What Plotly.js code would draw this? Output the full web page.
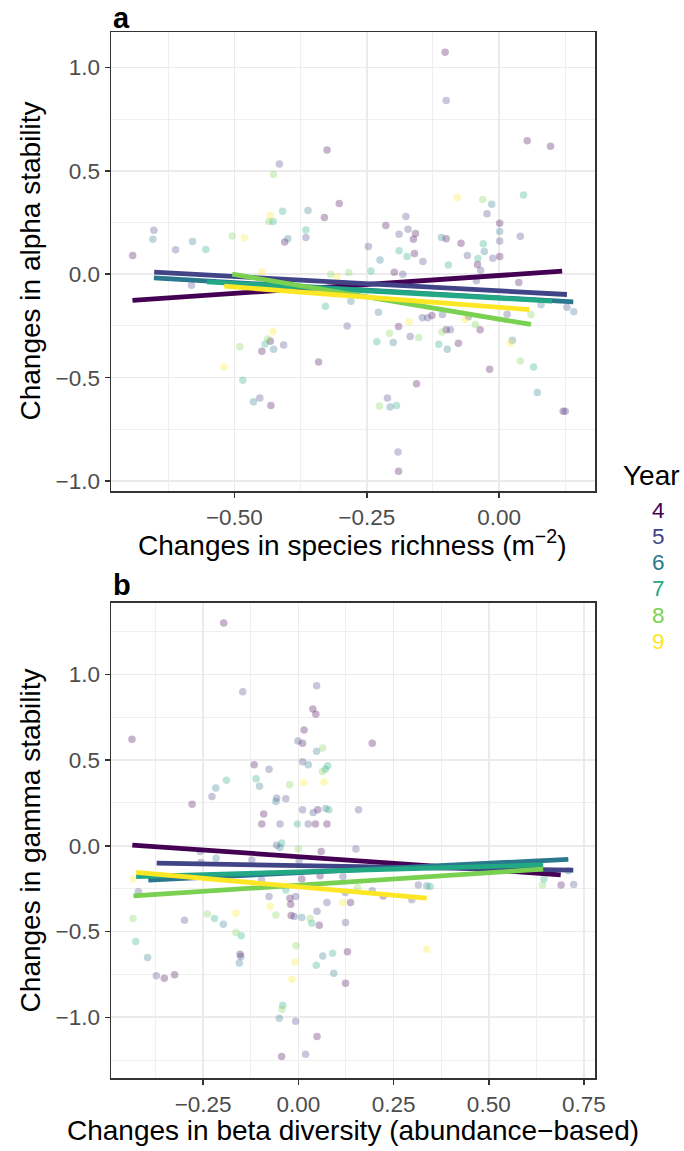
<!DOCTYPE html>
<html>
<head>
<meta charset="utf-8">
<script src="https://cdn.plot.ly/plotly-3.0.1.min.js"></script>
<style>html,body{margin:0;padding:0;background:#fff;}#chart{width:684px;height:1151px;}</style>
</head>
<body>
<div id="chart"></div>
<script>
// ---------- data ----------
const years = [4, 5, 6, 7, 8, 9];
const yearColors = ['#440154', '#414487', '#2A788E', '#22A884', '#7AD151', '#FDE725'];

// Panel a: change in species richness vs change in alpha stability
const aX = [-0.325,-0.415,-0.426,-0.302,-0.409,-0.361,-0.330,-0.432,-0.435,-0.427,-0.652,-0.654,-0.692,-0.611,-0.579,-0.554,-0.504,-0.481,-0.365,-0.365,-0.405,-0.399,-0.102,-0.100,0.053,0.097,-0.079,-0.031,-0.014,0.046,-0.023,-0.176,-0.214,-0.189,-0.172,-0.158,-0.162,-0.247,-0.109,-0.100,-0.072,0.001,0.001,0.001,0.040,-0.030,-0.028,-0.060,-0.040,-0.012,0.001,-0.189,-0.174,-0.160,-0.225,-0.144,-0.096,-0.041,-0.581,-0.448,-0.318,-0.306,-0.284,-0.328,-0.280,-0.287,-0.427,-0.437,-0.432,-0.442,-0.448,-0.426,-0.407,-0.490,-0.341,-0.520,-0.484,-0.464,-0.452,-0.431,-0.242,-0.198,-0.182,0.037,-0.043,-0.035,-0.228,-0.170,-0.190,-0.207,-0.231,-0.200,-0.168,-0.152,-0.145,-0.135,-0.127,-0.108,-0.100,-0.092,-0.114,-0.098,-0.077,-0.107,-0.058,-0.064,-0.045,-0.036,0.015,0.060,0.079,0.128,0.141,0.025,0.021,0.040,0.065,-0.018,-0.156,-0.211,-0.206,-0.194,-0.226,0.072,0.121,0.125,-0.191,-0.190];
const aY = [0.600,0.533,0.482,0.342,0.305,0.308,0.274,0.284,0.255,0.255,0.213,0.169,0.090,0.118,0.158,0.119,0.185,0.176,0.214,0.177,0.156,0.172,1.073,0.840,0.645,0.619,0.371,0.361,0.338,0.383,0.292,0.279,0.235,0.193,0.218,0.197,0.169,0.134,0.177,0.171,0.150,0.247,0.206,0.161,0.184,0.147,0.110,0.090,0.076,0.077,0.086,0.113,0.086,0.100,0.069,0.061,0.044,0.047,-0.053,0.011,0.000,-0.013,0.008,-0.155,-0.131,-0.250,-0.277,-0.313,-0.324,-0.337,-0.372,-0.363,-0.342,-0.351,-0.424,-0.448,-0.513,-0.617,-0.598,-0.635,0.015,0.010,0.000,-0.040,-0.032,0.019,-0.184,-0.230,-0.253,-0.285,-0.327,-0.330,-0.301,-0.306,-0.211,-0.211,-0.200,-0.279,-0.268,-0.268,-0.338,-0.363,-0.334,-0.195,-0.206,-0.219,-0.243,-0.269,-0.193,-0.195,-0.147,-0.160,-0.182,-0.319,-0.332,-0.419,-0.448,-0.459,-0.530,-0.598,-0.642,-0.635,-0.637,-0.572,-0.662,-0.662,-0.859,-0.953];
const aYear = [4,5,8,4,7,6,4,9,8,7,5,6,4,5,6,7,8,9,7,5,4,6,4,5,4,4,9,8,6,7,5,5,4,5,5,4,4,5,6,4,4,4,6,5,5,7,6,5,7,5,4,7,7,4,6,5,7,4,5,9,8,9,8,7,6,5,9,8,4,7,4,6,5,8,4,9,7,6,5,4,7,4,5,4,5,5,6,9,4,8,7,6,5,8,5,5,4,8,4,5,7,6,4,5,5,9,8,4,5,8,6,5,6,6,9,8,7,4,4,5,6,7,8,6,4,5,5,4];

// Panel a fitted lines (start / end of each year's linear fit)
const aFitX0 = [-0.6925, -0.6515, -0.652, -0.552, -0.504, -0.519];
const aFitX1 = [0.119, 0.128, 0.140, 0.100, 0.060, 0.057];
const aFitY0 = [-0.126, 0.010, -0.018, -0.037, 0.000, -0.058];
const aFitY1 = [0.0145, -0.098, -0.134, -0.130, -0.243, -0.171];

// Panel b: change in beta diversity vs change in gamma stability
const bX = [-0.196,-0.146,0.048,0.038,0.046,-0.437,0.015,-0.001,0.011,0.048,0.064,0.011,0.026,0.077,0.071,0.063,0.067,0.014,-0.023,-0.116,-0.077,-0.111,-0.102,-0.189,-0.217,-0.227,-0.279,-0.057,-0.059,-0.033,0.011,0.039,0.051,0.072,0.080,-0.091,0.158,-0.096,-0.048,-0.003,0.026,0.045,0.075,0.194,-0.057,-0.044,-0.048,0.000,0.060,0.151,-0.258,-0.216,-0.122,-0.256,0.002,0.009,0.057,0.117,-0.097,-0.420,-0.433,-0.077,-0.022,-0.007,-0.020,-0.033,-0.074,-0.059,-0.019,-0.011,0.009,0.049,0.075,0.117,0.137,0.031,0.035,0.055,0.124,-0.434,-0.299,-0.239,-0.220,-0.197,-0.164,-0.164,-0.150,-0.427,-0.396,-0.373,-0.352,-0.325,-0.153,-0.151,-0.155,-0.006,-0.009,-0.017,0.047,0.064,0.090,0.129,0.093,0.124,-0.041,-0.043,-0.050,-0.007,0.049,-0.044,0.019,0.123,0.155,0.194,0.223,0.298,0.315,0.337,0.346,0.337,0.645,0.641,0.690,0.723,0.709];
const bY = [1.300,0.899,0.934,0.798,0.767,0.621,0.675,0.611,0.599,0.551,0.570,0.490,0.473,0.467,0.447,0.434,0.373,0.368,0.356,0.473,0.446,0.391,0.347,0.383,0.338,0.288,0.243,0.278,0.259,0.274,0.210,0.195,0.210,0.218,0.210,0.185,0.210,0.127,0.127,0.127,0.127,0.127,0.127,0.599,0.004,0.016,-0.009,-0.019,-0.033,-0.019,-0.033,-0.072,-0.082,-0.097,-0.087,-0.194,-0.175,-0.179,-0.198,-0.268,-0.194,-0.295,-0.305,-0.295,-0.340,-0.258,-0.354,-0.403,-0.406,-0.412,-0.418,-0.381,-0.330,-0.330,-0.330,-0.424,-0.451,-0.463,-0.447,-0.424,-0.434,-0.398,-0.424,-0.457,-0.393,-0.505,-0.525,-0.558,-0.651,-0.758,-0.772,-0.752,-0.632,-0.645,-0.684,-0.583,-0.677,-0.778,-0.696,-0.642,-0.626,-0.618,-0.743,-0.801,-0.929,-0.953,-1.006,-1.023,-1.112,-1.229,-1.215,-0.272,-0.243,-0.262,-0.292,-0.315,-0.229,-0.233,-0.237,-0.603,-0.194,-0.229,-0.229,-0.225,-0.146];
const bYear = [4,5,5,4,4,4,4,5,4,6,8,5,6,7,7,8,9,9,8,4,5,7,6,7,6,5,4,5,6,5,5,5,4,6,7,4,5,4,5,7,5,4,4,4,5,7,6,8,4,5,5,6,5,5,5,4,4,5,5,5,9,5,4,5,4,7,9,8,4,5,6,5,5,9,4,8,7,4,5,8,5,8,7,6,9,8,7,7,6,5,4,4,4,5,6,8,9,9,7,6,7,4,6,4,7,8,6,5,4,4,5,5,8,5,4,5,5,6,7,9,7,8,4,5,6];

// Panel b fitted lines
const bFitX0 = [-0.436, -0.372, -0.394, -0.426, -0.433, -0.426];
const bFitX1 = [0.689, 0.722, 0.709, 0.643, 0.643, 0.337];
const bFitY0 = [0.004, -0.101, -0.200, -0.179, -0.292, -0.155];
const bFitY1 = [-0.169, -0.142, -0.079, -0.111, -0.136, -0.305];

// Axis / text labels
const panelTags = ['a', 'b'];
const xTitles = ['Changes in species richness (m<sup>\u22122</sup>)', 'Changes in beta diversity (abundance\u2212based)'];
const yTitles = ['Changes in alpha stability', 'Changes in gamma stability'];
const legendTitle = 'Year';

// ---------- build ----------
const traces = [];
function addPanel(X, Y, YR, fx0, fx1, fy0, fy1, xa, ya) {
  years.forEach((yr, i) => {
    const xs = [], ys = [];
    YR.forEach((v, k) => { if (v === yr) { xs.push(X[k]); ys.push(Y[k]); } });
    traces.push({type: 'scatter', mode: 'markers', x: xs, y: ys, xaxis: xa, yaxis: ya,
      marker: {color: yearColors[i], size: 7.5, opacity: 0.3, line: {width: 0}},
      showlegend: false, hoverinfo: 'skip'});
  });
  years.forEach((yr, i) => {
    traces.push({type: 'scatter', mode: 'lines', x: [fx0[i], fx1[i]], y: [fy0[i], fy1[i]],
      xaxis: xa, yaxis: ya, line: {color: yearColors[i], width: 4.8},
      showlegend: false, hoverinfo: 'skip'});
  });
}
addPanel(aX, aY, aYear, aFitX0, aFitX1, aFitY0, aFitY1, 'x', 'y');
addPanel(bX, bY, bYear, bFitX0, bFitX1, bFitY0, bFitY1, 'x2', 'y2');

const grid = '#EBEBEB';
const font = 'Liberation Sans, Arial, sans-serif';
function axis(extra) {
  return Object.assign({
    showgrid: true, gridcolor: grid, gridwidth: 1.6,
    zeroline: false, showline: true, mirror: true, linecolor: '#333333', linewidth: 1.5,
    ticks: 'outside', ticklen: 5, tickwidth: 1.5, tickcolor: '#333333',
    tickfont: {family: font, size: 22.5, color: '#4D4D4D'},
    fixedrange: true
  }, extra);
}
const minorGrid = {tick0: 0, showgrid: true, gridcolor: grid, gridwidth: 0.8};

// pixel helpers for text placement (plot area: x 111..595, y 32..1078)
const L = 111, R = 595, T = 32, B = 1078;
const px = v => (v - L) / (R - L);
const py = v => (B - v) / (B - T);

const annotations = [];
function note(text, x, y, opts) {
  annotations.push(Object.assign({text: text, x: px(x), y: py(y), xref: 'paper', yref: 'paper',
    xanchor: 'center', yanchor: 'middle', showarrow: false,
    font: {family: font, size: 28, color: '#000'}}, opts || {}));
}
note('<b>' + panelTags[0] + '</b>', 111, 18, {xanchor: 'left', font: {family: font, size: 29, color: '#000'}});
note('<b>' + panelTags[1] + '</b>', 111, 585, {xanchor: 'left', font: {family: font, size: 29, color: '#000'}});
note(xTitles[0], 352, 543);
note(xTitles[1], 353, 1130);
note(yTitles[0], 30, 261.5, {textangle: -90});
note(yTitles[1], 30, 840.4, {textangle: -90});
note(legendTitle, 621, 475, {xanchor: 'left'});
years.forEach((yr, i) => {
  note(String(yr), 658, 510 + i * 26.3, {font: {family: font, size: 22.5, color: yearColors[i]}});
});

const layout = {
  width: 684, height: 1151,
  margin: {l: L, r: 684 - R, t: T, b: 1151 - B, pad: 0},
  paper_bgcolor: '#FFFFFF', plot_bgcolor: '#FFFFFF',
  showlegend: false,
  font: {family: font},
  xaxis: axis({anchor: 'y', domain: [0, 1], range: [-0.733, 0.181], tick0: 0, dtick: 0.25, tickformat: '.2f',
    minor: Object.assign({dtick: 0.125}, minorGrid)}),
  yaxis: axis({anchor: 'x', domain: [py(491), 1], range: [-1.048, 1.171], tick0: 0, dtick: 0.5, tickformat: '.1f',
    minor: Object.assign({dtick: 0.25}, minorGrid)}),
  xaxis2: axis({anchor: 'y2', domain: [0, 1], range: [-0.492, 0.779], tick0: 0, dtick: 0.25, tickformat: '.2f',
    minor: Object.assign({dtick: 0.125}, minorGrid)}),
  yaxis2: axis({anchor: 'x2', domain: [0, py(602.7)], range: [-1.354, 1.418], tick0: 0, dtick: 0.5, tickformat: '.1f',
    minor: Object.assign({dtick: 0.25}, minorGrid)}),
  annotations: annotations
};

Plotly.newPlot('chart', traces, layout, {staticPlot: true, displayModeBar: false});
</script>
</body>
</html>
